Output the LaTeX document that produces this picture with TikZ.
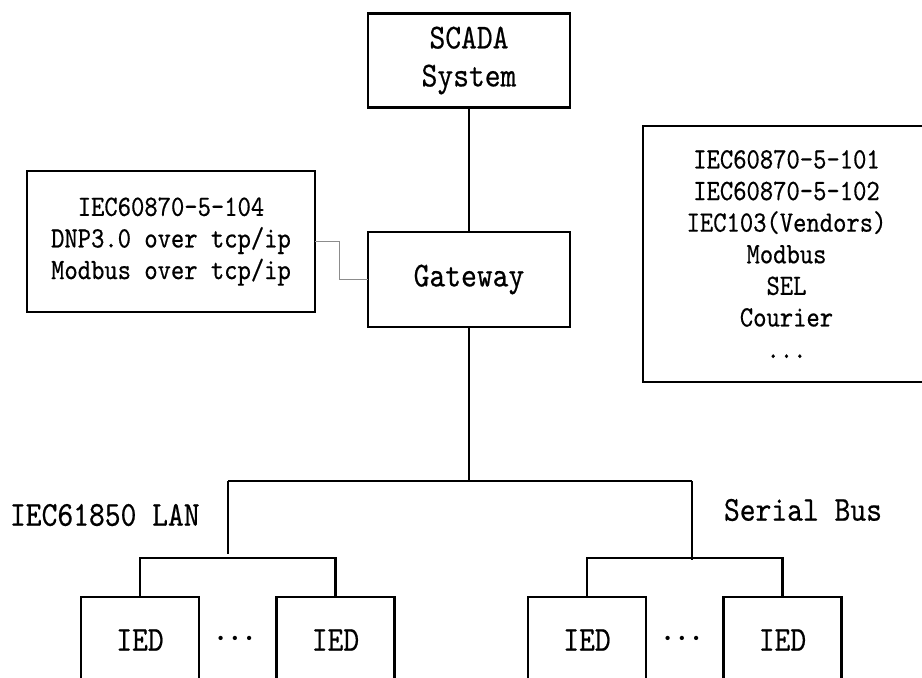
\documentclass[tikz,border=0pt]{standalone}
\usepackage{fontspec}
\usepackage{tikz}

\newfontfamily\tagfont{lmmono10-regular}[Extension=.otf,FakeStretch=0.86,FakeBold=0.5]
\newcommand\bigtag{\tagfont\fontsize{35}{38}\selectfont}
\newcommand\smalltag{\tagfont\fontsize{29.5}{31.6}\selectfont}
\newcommand\gapdots{{\fontsize{19}{19}\selectfont
  \textbullet\hspace{0.5pt}\textbullet\hspace{0.5pt}\textbullet}}

\begin{document}
\begin{tikzpicture}[x=1pt, y=1pt, yscale=-1, inner sep=0pt, outer sep=0pt]
  \tikzset{
    unit/.style={draw, line width=2.8pt, minimum width=202, minimum height=94,
      align=center, font=\bigtag},
    protobox/.style={draw, line width=2.8pt, align=center, font=\smalltag},
    ied/.style={draw, line width=2.8pt, minimum width=118, minimum height=86,
      font=\bigtag},
    bus/.style={line width=2.8pt},
    link/.style={draw=black!45, line width=1pt},
    tag/.style={font=\bigtag, anchor=west}
  }
  \useasboundingbox (0,0) rectangle (922,678);

  % master station and gateway
  \node[unit] (scada) at (469,60.5) {SCADA\\System};
  \node[unit, minimum height=95] (gw) at (469,279.5) {Gateway};
  \draw[bus] (scada) -- (gw);

  % protocol lists
  \node[protobox, minimum width=288, minimum height=141] (tcpproto) at (171,241.5)
    {IEC60870-5-104\\DNP3.0 over tcp/ip\\Modbus over tcp/ip};
  \node[protobox, minimum width=287, minimum height=256] (serproto) at (786.5,254)
    {IEC60870-5-101\\IEC60870-5-102\\IEC103(Vendors)\\Modbus\\SEL\\Courier\\...};
  \draw[link] (tcpproto.east) -- ++(24,0) |- (gw.west);

  % field devices
  \node[ied] (ied1) at (140,640) {IED};
  \node[ied] (ied2) at (335.5,640) {IED};
  \node[ied] (ied3) at (587,640) {IED};
  \node[ied] (ied4) at (782.5,640) {IED};
  \node (dotsa) at (235,640) {\gapdots};
  \node (dotsb) at (682,640) {\gapdots};

  % station bus split
  \coordinate (split) at (469,481);
  \coordinate (lanup) at (228,481);
  \coordinate (serup) at (692,481);
  \coordinate (lanend) at (228,554);
  \coordinate (lanbus) at (228,558);
  \coordinate (serbus) at (692,558);
  \draw[bus] (gw.south) -- (split);
  \draw[bus] (lanup) -- (serup);
  \draw[bus] (lanup) -- (lanend);
  \draw[bus] (serup) -- ([yshift=2]serbus);
  \draw[bus] (ied1.north) |- (lanbus) -| (ied2.north);
  \draw[bus] (ied3.north) |- (serbus) -| (ied4.north);

  \node[tag] (lanlabel) at (10,515) {IEC61850 LAN};
  \node[tag] (serlabel) at (724,510) {Serial Bus};
\end{tikzpicture}
\end{document}
